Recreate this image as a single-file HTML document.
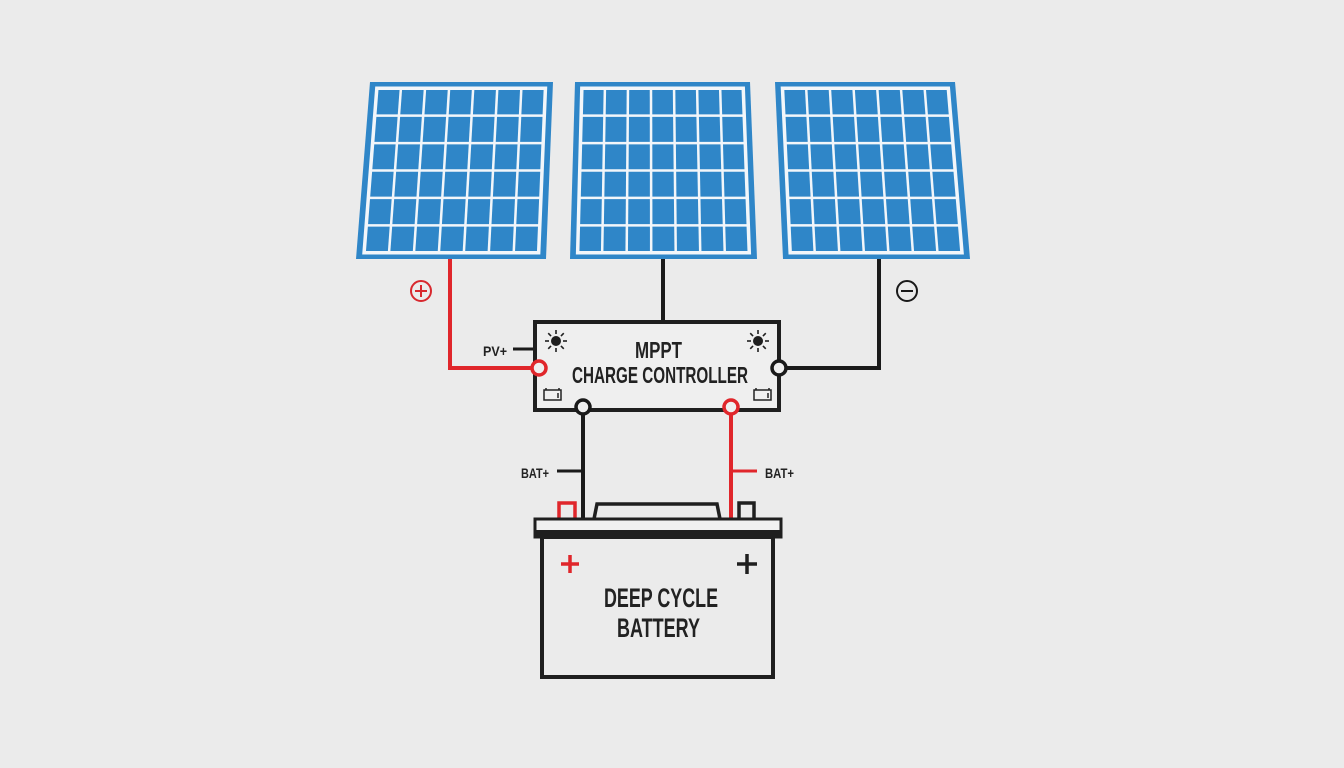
<!DOCTYPE html>
<html><head><meta charset="utf-8"><style>
html,body{margin:0;padding:0;background:#ebebeb;}
svg{display:block}
text{font-family:"Liberation Sans",sans-serif;font-weight:bold;fill:#222}
</style></head><body>
<svg id="s" width="1344" height="768" viewBox="0 0 1344 768" xmlns="http://www.w3.org/2000/svg">
<rect width="1344" height="768" fill="#ebebeb"/>
<g id="panels"></g>
<g fill="none" stroke-width="4">
<polyline points="450,259 450,368 532,368" stroke="#e0262b"/>
<line x1="663" y1="259" x2="663" y2="322" stroke="#1a1a1a"/>
<polyline points="879,259 879,368 786,368" stroke="#1a1a1a"/>
<line x1="513" y1="349" x2="535" y2="349" stroke="#1a1a1a" stroke-width="3"/>
<line x1="583" y1="414" x2="583" y2="520" stroke="#1a1a1a"/>
<line x1="557" y1="471" x2="583" y2="471" stroke="#1a1a1a" stroke-width="3"/>
<line x1="731" y1="414" x2="731" y2="518" stroke="#e0262b"/>
<line x1="731" y1="471" x2="757" y2="471" stroke="#e0262b" stroke-width="3"/>
</g>
<circle cx="421" cy="291" r="10" fill="none" stroke="#d8282e" stroke-width="2"/>
<path d="M415 291h12M421 285v12" stroke="#d8282e" stroke-width="2"/>
<circle cx="907" cy="291" r="10" fill="none" stroke="#1a1a1a" stroke-width="2"/>
<path d="M901 291h12" stroke="#1a1a1a" stroke-width="2"/>
<rect x="535" y="322" width="244" height="88" fill="#efefef" stroke="#1f1f1f" stroke-width="4"/>
<text x="635" y="358" font-size="23" textLength="47" lengthAdjust="spacingAndGlyphs">MPPT</text>
<text x="572" y="383" font-size="23" textLength="176" lengthAdjust="spacingAndGlyphs">CHARGE CONTROLLER</text>
<text x="483" y="356" font-size="14" textLength="24" lengthAdjust="spacingAndGlyphs">PV+</text>
<g id="suns"></g>
<g fill="none" stroke="#222" stroke-width="1.5">
<rect x="544" y="390" width="17" height="10"/><line x1="558" y1="393" x2="558" y2="398"/><path d="M546 390v-2M559 390v-2"/>
<rect x="754" y="390" width="17" height="10"/><line x1="768" y1="393" x2="768" y2="398"/><path d="M756 390v-2M769 390v-2"/>
</g>
<circle cx="539" cy="368" r="7" fill="#efefef" stroke="#e0262b" stroke-width="3.5"/>
<circle cx="779" cy="368" r="7" fill="#efefef" stroke="#1a1a1a" stroke-width="3.5"/>
<circle cx="583" cy="407" r="7" fill="#efefef" stroke="#1a1a1a" stroke-width="3.5"/>
<circle cx="731" cy="407" r="7" fill="#efefef" stroke="#e0262b" stroke-width="3.5"/>
<text x="521" y="478" font-size="14" textLength="28" lengthAdjust="spacingAndGlyphs">BAT+</text>
<text x="765" y="478" font-size="14" textLength="29" lengthAdjust="spacingAndGlyphs">BAT+</text>
<path d="M559 519v-16h16v16" fill="none" stroke="#e0262b" stroke-width="3.5"/>
<path d="M739 519v-16h15v16" fill="none" stroke="#1f1f1f" stroke-width="3.5"/>
<path d="M594 519l3-15h120l3 15" fill="none" stroke="#1f1f1f" stroke-width="3.5"/>
<rect x="535" y="519" width="246" height="18" fill="#f1f1f1" stroke="#1f1f1f" stroke-width="3"/>
<rect x="534" y="530" width="248" height="8" fill="#1f1f1f"/>
<rect x="542" y="537" width="231" height="140" fill="#ebebeb" stroke="#1f1f1f" stroke-width="4"/>
<path d="M561 564h18M570 555v18" stroke="#e0262b" stroke-width="3.5"/>
<path d="M737 564h20M747 554v20" stroke="#1f1f1f" stroke-width="3.5"/>
<text x="604" y="607" font-size="27" textLength="114" lengthAdjust="spacingAndGlyphs">DEEP CYCLE</text>
<text x="617" y="637" font-size="27" textLength="83" lengthAdjust="spacingAndGlyphs">BATTERY</text>
</svg>
<script>
(function(){
var NS="http://www.w3.org/2000/svg",g=document.getElementById("panels");
function el(n,a,p){var e=document.createElementNS(NS,n);for(var k in a)e.setAttribute(k,a[k]);(p||g).appendChild(e);return e;}
var P=[[[370,82],[553,82],[546,259],[356,259]],[[575,82],[750,82],[757,259],[570,259]],[[775,82],[955,82],[970,259],[783,259]]];
function L(a,b,t){return [a[0]+(b[0]-a[0])*t,a[1]+(b[1]-a[1])*t];}
function pt(q,u,v){var top=L(q[0],q[1],u),bot=L(q[3],q[2],u);return L(top,bot,v);}
P.forEach(function(q){
 el("polygon",{points:q.map(function(p){return p.join(",")}).join(" "),fill:"#2f86c8"});
 var i=[pt(q,0.04,0.035),pt(q,0.96,0.035),pt(q,0.96,0.965),pt(q,0.04,0.965)];
 el("polygon",{points:i.map(function(p){return p.join(",")}).join(" "),fill:"#2f86c8",stroke:"#f2f6fa","stroke-width":3.5});
 var u0=0.04,u1=0.96,v0=0.035,v1=0.965;
 for(var c=1;c<7;c++){var u=u0+(u1-u0)*c/7,a=pt(q,u,v0),b=pt(q,u,v1);el("line",{x1:a[0],y1:a[1],x2:b[0],y2:b[1],stroke:"#f2f6fa","stroke-width":2.5});}
 for(var r=1;r<6;r++){var v=v0+(v1-v0)*r/6,a=pt(q,u0,v),b=pt(q,u1,v);el("line",{x1:a[0],y1:a[1],x2:b[0],y2:b[1],stroke:"#f2f6fa","stroke-width":2.5});}
});
var s=document.getElementById("suns");
[[556,341],[758,341]].forEach(function(c){
 el("circle",{cx:c[0],cy:c[1],r:5,fill:"#1f1f1f"},s);
 for(var k=0;k<8;k++){var a=k*Math.PI/4;el("line",{x1:c[0]+7*Math.cos(a),y1:c[1]+7*Math.sin(a),x2:c[0]+11*Math.cos(a),y2:c[1]+11*Math.sin(a),stroke:"#1f1f1f","stroke-width":1.6},s);}
});
})();
</script>
</body></html>
